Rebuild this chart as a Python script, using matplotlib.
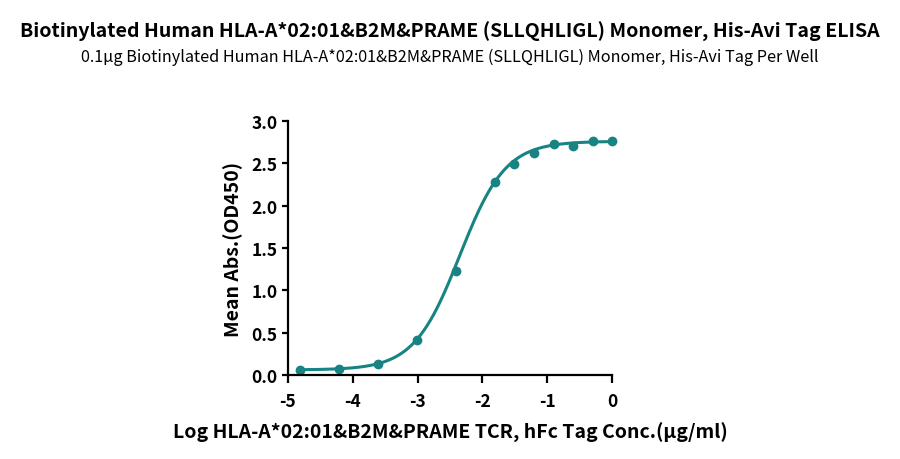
import numpy as np
import matplotlib
matplotlib.use("Agg")
import matplotlib.pyplot as plt

plt.rcParams['font.family'] = ['Noto Sans CJK SC', 'DejaVu Sans']

# measured points (log10 concentration, mean OD450)
log_conc = [-4.82, -4.21, -3.61, -3.01, -2.41, -1.81, -1.51, -1.20, -0.90, -0.60, -0.30, 0.0]
mean_abs = [0.055, 0.075, 0.134, 0.417, 1.232, 2.276, 2.488, 2.626, 2.728, 2.709, 2.764, 2.764]

# 4PL fit parameters
fit_bottom = 0.06
fit_top = 2.76
fit_log_ec50 = -2.35
fit_hill = 1.23

title = "Biotinylated Human HLA-A*02:01&B2M&PRAME (SLLQHLIGL) Monomer, His-Avi Tag ELISA"
subtitle = "0.1μg Biotinylated Human HLA-A*02:01&B2M&PRAME (SLLQHLIGL) Monomer, His-Avi Tag Per Well"
xlabel = "Log HLA-A*02:01&B2M&PRAME TCR, hFc Tag Conc.(μg/ml)"
ylabel = "Mean Abs.(OD450)"

teal = "#178383"

fig = plt.figure(figsize=(9, 4.6), dpi=100)
ax = fig.add_axes([0.32, 0.1826, 0.36, 0.5522])

xs = np.linspace(log_conc[0], log_conc[-1], 300)
curve = fit_bottom + (fit_top - fit_bottom) / (1 + 10 ** ((fit_log_ec50 - xs) * fit_hill))
ax.plot(xs, curve, color=teal, lw=2.2, clip_on=False)
ax.plot(log_conc, mean_abs, 'o', color=teal, ms=6, clip_on=False)

ax.set_xlim(-5, 0)
ax.set_ylim(0, 3)
ax.set_xticks([-5, -4, -3, -2, -1, 0])
ax.set_xticklabels(['-5', '-4', '-3', '-2', '-1', '0'])
ax.set_yticks([0, 0.5, 1.0, 1.5, 2.0, 2.5, 3.0])
ax.set_yticklabels(['0.0', '0.5', '1.0', '1.5', '2.0', '2.5', '3.0'])
for s in ['top', 'right']:
    ax.spines[s].set_visible(False)
for s in ['left', 'bottom']:
    ax.spines[s].set_linewidth(1.6)
ax.tick_params(width=1.6, labelsize=12.5)
ax.tick_params(axis='x', length=5.5, pad=6.5)
ax.tick_params(axis='y', length=4, pad=3.5)
for lab in ax.get_xticklabels() + ax.get_yticklabels():
    lab.set_fontweight('bold')

ax.set_xlabel(xlabel, fontsize=14, fontweight='bold', labelpad=9)
ax.set_ylabel(ylabel, fontsize=14, fontweight='bold', labelpad=6)

fig.text(0.5, 0.93, title, ha='center', va='center', fontsize=14.1, fontweight='bold')
fig.text(0.5, 0.876, subtitle, ha='center', va='center', fontsize=11.7)

fig.savefig("out.png", dpi=100)
